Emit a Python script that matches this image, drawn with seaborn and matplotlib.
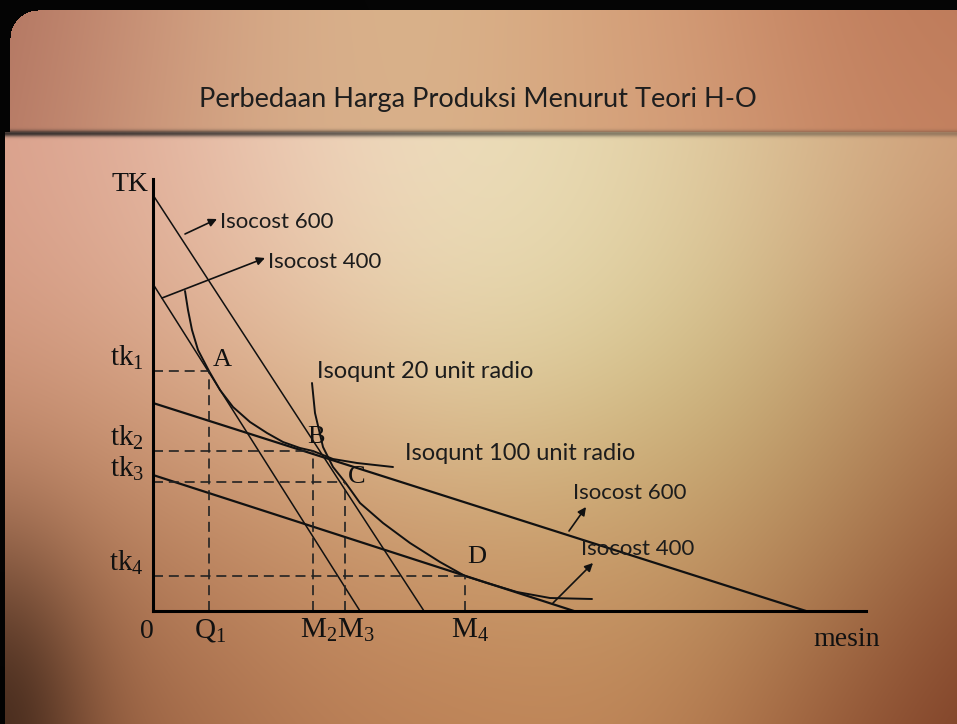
import numpy as np
import pandas as pd
import matplotlib
matplotlib.use("Agg")
import matplotlib.pyplot as plt
import seaborn as sns

# ---- chart values (x = mesin, y = TK) ----
tick_y_names = ["tk_1", "tk_2", "tk_3", "tk_4"]
tick_y_vals = [24.0, 16.0, 12.9, 3.5]
tick_x_names = ["Q_1", "M_2", "M_3", "M_4"]
tick_x_vals = [5.6, 16.0, 19.2, 31.2]
point_names = ["A", "B", "C", "D"]

# isocost lines: (TK intercept, mesin intercept)
isocost_names = ["Isocost 600 (a)", "Isocost 400 (a)", "Isocost 600 (b)", "Isocost 400 (b)"]
isocost_tk = [41.6, 32.7, 20.8, 13.6]
isocost_mesin = [27.1, 20.7, 65.3, 42.1]

# isoquant curves
isoq100_x = [3.2, 3.5, 3.9, 4.5, 5.6, 6.7, 8.0, 9.7, 11.4, 13.0, 14.7, 16.0, 18.0, 20.4, 24.0]
isoq100_y = [32.0, 30.1, 28.1, 26.1, 24.0, 22.1, 20.4, 18.9, 17.8, 16.9, 16.3, 16.0, 15.2, 14.8, 14.4]
isoq20_x = [15.9, 16.2, 17.0, 18.0, 19.2, 20.7, 23.0, 25.7, 28.7, 31.2, 33.4, 36.4, 39.7, 43.9]
isoq20_y = [22.8, 19.8, 16.4, 14.4, 12.9, 10.8, 8.8, 6.8, 4.9, 3.5, 2.8, 1.9, 1.3, 1.2]

W, H = 957, 724
sns.set_theme(style="white")
plt.rcParams["mathtext.default"] = "regular"
plt.rcParams["font.family"] = ["Lato", "DejaVu Sans"]

fig = plt.figure(figsize=(W / 100, H / 100), dpi=100)

# ---- slide background ----
yy, xx = np.mgrid[0:H, 0:W].astype(float)


def blend(points, sigma):
    num = np.zeros((H, W, 3))
    den = np.zeros((H, W))
    for px, py, col in points:
        w = np.exp(-((xx - px) ** 2 + (yy - py) ** 2) / (2 * sigma ** 2))
        num += w[..., None] * np.array(col, float)
        den += w
    return num / den[..., None]


main_pts = [
    (40, 200, (214, 152, 132)), (150, 220, (230, 182, 162)), (300, 200, (242, 214, 194)),
    (470, 240, (240, 232, 198)), (620, 200, (232, 215, 175)), (780, 220, (222, 200, 155)),
    (920, 200, (205, 150, 115)), (50, 420, (195, 135, 105)), (250, 400, (225, 178, 140)),
    (480, 400, (222, 205, 155)), (700, 400, (210, 205, 138)), (820, 480, (200, 185, 125)),
    (920, 420, (160, 85, 55)), (940, 600, (125, 55, 33)), (30, 690, (110, 60, 38)),
    (200, 680, (170, 108, 72)), (450, 680, (182, 120, 78)), (650, 670, (190, 128, 82)),
    (830, 680, (165, 95, 58)), (940, 715, (95, 38, 22)), (150, 560, (190, 135, 98)),
    (350, 560, (205, 150, 105)), (600, 560, (208, 160, 110)), (760, 580, (195, 150, 100)),
]
title_pts = [
    (30, 40, (150, 90, 75)), (120, 70, (215, 150, 125)), (250, 50, (220, 175, 140)),
    (400, 60, (222, 192, 148)), (550, 60, (215, 170, 130)), (700, 50, (212, 150, 115)),
    (880, 30, (175, 105, 75)), (900, 100, (205, 140, 105)), (300, 115, (210, 170, 135)),
    (650, 115, (215, 165, 125)),
]
bg = blend(main_pts, 130)
tb = blend(title_pts, 130)
bg[:132] = tb[:132]

# dark separator under the title band
sep = np.exp(-((yy - 133) ** 2) / (2 * 2.2 ** 2)) * np.clip(1.0 - xx / 1400, 0.35, 1)
bg = bg * (1 - 0.85 * sep[..., None]) + 30 * 0.85 * sep[..., None]

# black frame at top and left, rounded inner corner in the title band
frame = np.zeros((H, W))
frame[yy < 10] = 1
frame[(xx < 10) & (yy < 132)] = 1
frame[(xx < 5)] = 1
r = 28
corner = (xx < 10 + r) & (yy < 10 + r) & (((xx - (10 + r)) ** 2 + (yy - (10 + r)) ** 2) > r ** 2)
frame[corner] = 1
bg = bg * (1 - frame[..., None]) + 5 * frame[..., None]

# darker shading in the lower-left corner
vig = np.exp(-((xx) ** 2 / (2 * 60 ** 2) + (yy - H) ** 2 / (2 * 120 ** 2)))
bg = bg * (1 - 0.45 * vig[..., None])

bg_ax = fig.add_axes([0, 0, 1, 1])
bg_ax.imshow(np.clip(bg, 0, 255).astype(np.uint8), aspect="auto", interpolation="bilinear",
             extent=(0, W, H, 0))
bg_ax.set_xlim(0, W)
bg_ax.set_ylim(H, 0)
bg_ax.set_axis_off()

bg_ax.text(478, 100, "Perbedaan Harga Produksi Menurut Teori H-O",
           ha="center", va="center", fontsize=19.6, fontweight="normal",
           family=["Lato", "DejaVu Sans"], color="#1e1e1e")

# ---- diagram axes ----
ax = fig.add_axes([153 / W, (H - 611) / H, (866 - 153) / W, (611 - 179) / H])
ax.set_xlim(0, 71.3)
ax.set_ylim(0, 43.2)
ax.patch.set_alpha(0)
for s in ["top", "right"]:
    ax.spines[s].set_visible(False)
for s in ["left", "bottom"]:
    ax.spines[s].set_color("black")
    ax.spines[s].set_linewidth(2.2)
ax.set_xticks([])
ax.set_yticks([])

ink = "#111111"

# isocost lines
iso = pd.DataFrame({
    "name": np.repeat(isocost_names, 2),
    "x": np.ravel([[0, m] for m in isocost_mesin]),
    "y": np.ravel([[t, 0] for t in isocost_tk]),
})
steep = iso[iso["name"].str.endswith("(a)")]
flat = iso[iso["name"].str.endswith("(b)")]
sns.lineplot(data=steep, x="x", y="y", units="name", estimator=None, sort=False,
             color=ink, lw=1.1, ax=ax, legend=False)
sns.lineplot(data=flat, x="x", y="y", units="name", estimator=None, sort=False,
             color=ink, lw=1.6, ax=ax, legend=False)

# isoquants
q = pd.DataFrame({
    "x": isoq100_x + isoq20_x,
    "y": isoq100_y + isoq20_y,
    "curve": ["100"] * len(isoq100_x) + ["20"] * len(isoq20_x),
})
sns.lineplot(data=q, x="x", y="y", units="curve", estimator=None, sort=False,
             color=ink, lw=1.4, ax=ax, legend=False)

# dashed guides from each point to both axes
guides = []
for i, (gx, gy) in enumerate(zip(tick_x_vals, tick_y_vals)):
    guides += [(f"h{i}", 0, gy), (f"h{i}", gx, gy), (f"v{i}", gx, 0), (f"v{i}", gx, gy)]
gd = pd.DataFrame(guides, columns=["g", "x", "y"])
sns.lineplot(data=gd, x="x", y="y", units="g", estimator=None, sort=False,
             color="#222222", lw=1.2, ax=ax, legend=False,
             linestyle=(0, (6, 3.5)))
ax.set_xlabel("")
ax.set_ylabel("")

serif = ["Liberation Serif", "DejaVu Serif"]
sans = ["Lato", "DejaVu Sans"]

# point labels
label_off = [(1.3, 1.1), (0.3, 1.4), (1.2, 0.5), (1.2, 1.9)]
for name, gx, gy, (dx, dy) in zip(point_names, tick_x_vals, tick_y_vals, label_off):
    ax.text(gx + dx, gy + dy, name, family=serif, fontsize=19, color=ink,
            ha="center", va="center", clip_on=False)

# axis value labels
for name, gy in zip(tick_y_names, tick_y_vals):
    ax.text(-0.9, gy + 0.5, f"${name}$", family=serif, fontsize=21, color=ink,
            ha="right", va="baseline", clip_on=False)
ax.text(-0.6, -2.7, "0", family=serif, fontsize=20, color=ink, ha="center", va="baseline")
ax.text(tick_x_vals[0] + 0.1, -2.7, f"${tick_x_names[0]}$", family=serif, fontsize=21,
        color=ink, ha="center", va="baseline")
ax.text((tick_x_vals[1] + tick_x_vals[2]) / 2 + 0.8, -2.7,
        f"${tick_x_names[1]}{tick_x_names[2]}$", family=serif, fontsize=21,
        color=ink, ha="center", va="baseline")
ax.text(tick_x_vals[3] + 0.5, -2.7, f"${tick_x_names[3]}$", family=serif, fontsize=21,
        color=ink, ha="center", va="baseline")
ax.text(-2.3, 42.0, "TK", family=serif, fontsize=20, color=ink, ha="center", va="baseline",
        clip_on=False)
ax.text(69.4, -3.5, "mesin", family=serif, fontsize=20, color=ink, ha="center",
        va="baseline", clip_on=False)

# annotations
arrow = dict(arrowstyle="-|>", color=ink, lw=1.2, mutation_scale=12, shrinkA=0, shrinkB=0)
notes = [
    ("Isocost 600", (3.2, 37.7), (6.4, 39.2), (6.7, 38.9)),
    ("Isocost 400", (0.9, 31.3), (11.2, 35.3), (11.5, 34.9)),
    ("Isocost 600", (41.6, 8.0), (43.3, 10.4), (42.0, 11.8)),
    ("Isocost 400", (40.0, 0.8), (44.0, 4.8), (42.8, 6.2)),
]
for txt, start, end, tpos in notes:
    ax.annotate("", xy=end, xytext=start, arrowprops=arrow, annotation_clip=False)
    ax.text(tpos[0], tpos[1], txt, family=sans, fontsize=16, color="#1c1c1c",
            ha="left", va="center", clip_on=False)

ax.text(16.4, 24.0, "Isoqunt 20 unit radio", family=sans, fontsize=17, color="#1c1c1c",
        ha="left", va="center")
ax.text(25.2, 15.8, "Isoqunt 100 unit radio", family=sans, fontsize=17, color="#1c1c1c",
        ha="left", va="center")

fig.savefig("out.png", dpi=100)
